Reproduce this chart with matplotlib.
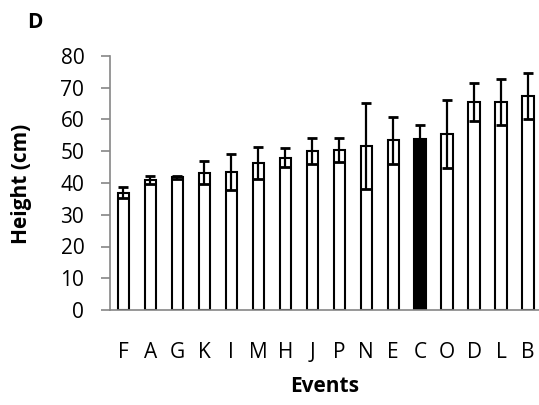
import matplotlib
matplotlib.use("Agg")
import matplotlib.pyplot as plt

categories = ["F", "A", "G", "K", "I", "M", "H", "J", "P", "N", "E", "C", "O", "D", "L", "B"]
heights = [37.0, 40.9, 41.8, 43.3, 43.5, 46.2, 48.0, 50.1, 50.3, 51.7, 53.4, 54.0, 55.4, 65.5, 65.5, 67.3]
errors = [1.8, 1.3, 0.5, 3.7, 5.7, 5.0, 3.0, 4.2, 3.8, 13.5, 7.3, 4.3, 10.7, 6.1, 7.2, 7.2]
highlight = "C"
y_ticks = [0, 10, 20, 30, 40, 50, 60, 70, 80]

plt.rcParams['font.family'] = ['Open Sans', 'DejaVu Sans']

fig = plt.figure(figsize=(5.39, 4.05), dpi=100)
ax = fig.add_axes([110/539, 1 - 310/405, (541.5 - 110)/539, (310 - 56)/405])

x = list(range(len(categories)))
colors = ['black' if c == highlight else 'white' for c in categories]
ax.bar(x, heights, width=0.42, color=colors, edgecolor='black', linewidth=1.5, zorder=2)
ax.errorbar(x, heights, yerr=errors, fmt='none', ecolor='black', elinewidth=1.6,
            capsize=3.8, capthick=2.0, zorder=3)

ax.set_xlim(-0.5, len(categories) - 0.5)
ax.set_ylim(0, 80)
ax.set_yticks(y_ticks)
ax.set_xticks(x)
ax.set_xticklabels(categories)

for s in ['top', 'right']:
    ax.spines[s].set_visible(False)
for s in ['left', 'bottom']:
    ax.spines[s].set_color('#868686')
    ax.spines[s].set_linewidth(1.2)

ax.tick_params(axis='y', direction='out', length=6.5, width=1.2, color='#868686',
               labelsize=15, pad=12, labelcolor='black')
ax.tick_params(axis='x', length=0, labelsize=15, pad=23, labelcolor='black')

fig.text(22/539, 1 - 184/405, "Height (cm)", rotation=90, ha='center', va='center',
         fontsize=15, fontweight='bold')
fig.text(325/539, 1 - 386/405, "Events", ha='center', va='center',
         fontsize=15, fontweight='bold')
fig.text(35/539, 1 - 22/405, "D", ha='center', va='center',
         fontsize=15, fontweight='bold')

fig.savefig("out.png", dpi=100)
